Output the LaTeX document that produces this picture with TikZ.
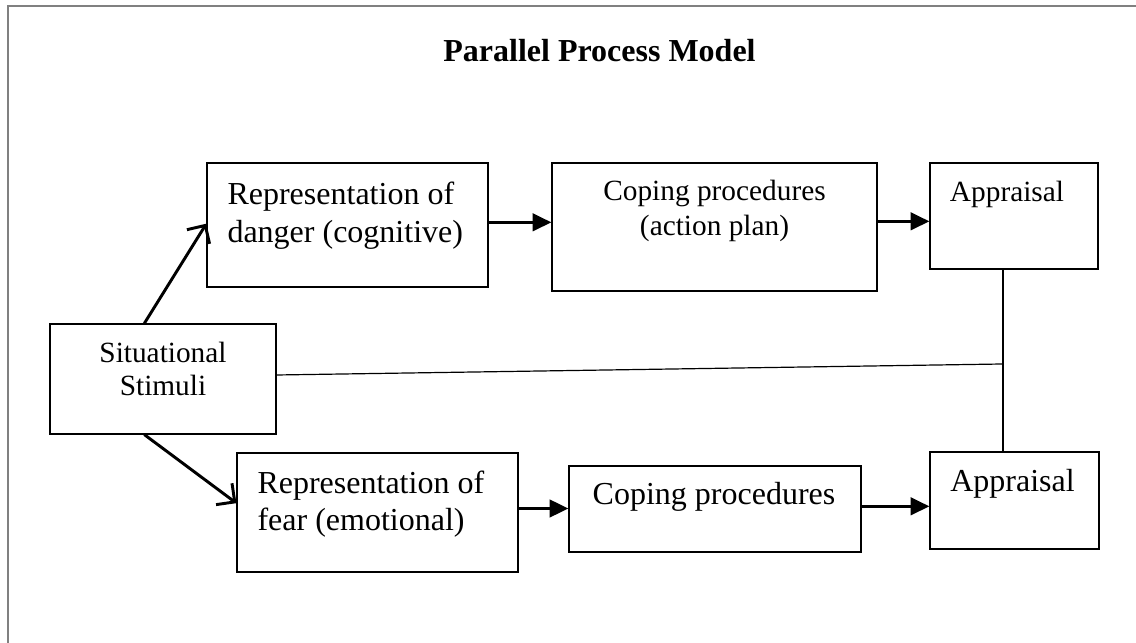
\documentclass[tikz,border=0pt]{standalone}
\usepackage{fontspec}
\setmainfont{Liberation Serif}
\usepackage{tikz}
\usetikzlibrary{arrows.meta}

\begin{document}
\begin{tikzpicture}[x=0.375pt, y=-0.375pt,
    box/.style={draw, line width=0.45pt, inner sep=0pt},
    boxtext/.style={inner sep=0pt},
    flow/.style={line width=1.1pt, -{Triangle[length=7pt, width=6.5pt]}},
    branch/.style={line width=1.1pt, -{Straight Barb[length=5pt, width=10pt]}}
]
  \useasboundingbox (0,0) rectangle (1136,643);

  % Rahmen
  \draw[gray, line width=0.6pt] (8,643) -- (8,6) -- (1136,6);

  % Titel
  \node[boxtext, anchor=base, font=\bfseries\fontsize{12}{14}\selectfont] (title) at (599.5,62) {Parallel Process Model};

  % Kaesten
  \node[box, minimum width=226*0.375pt, minimum height=110*0.375pt] (stim) at (163,379) {};
  \node[box, minimum width=281*0.375pt, minimum height=124*0.375pt] (danger) at (347.5,225) {};
  \node[box, minimum width=325*0.375pt, minimum height=128*0.375pt] (copetop) at (714.5,227) {};
  \node[box, minimum width=168*0.375pt, minimum height=106*0.375pt] (apptop) at (1014,216) {};
  \node[box, minimum width=281*0.375pt, minimum height=119*0.375pt] (fear) at (377.5,512.5) {};
  \node[box, minimum width=292*0.375pt, minimum height=86*0.375pt] (copebot) at (715,509) {};
  \node[box, minimum width=169*0.375pt, minimum height=97*0.375pt] (appbot) at (1014.5,500.5) {};

  % Texte in den Kaesten
  \node[boxtext, anchor=north, align=center, font=\fontsize{11}{12.4}\selectfont] (stimtxt) at (163,342) {Situational\\Stimuli};
  \node[boxtext, anchor=north west, align=left, font=\fontsize{12}{14.25}\selectfont] (dangertxt) at (227,181) {Representation of\\danger (cognitive)};
  \node[boxtext, anchor=north, align=center, font=\fontsize{11}{13.1}\selectfont] (copetoptxt) at (714.5,180) {Coping procedures\\(action plan)};
  \node[boxtext, anchor=base, font=\fontsize{11}{13}\selectfont] (apptoptxt) at (1007,202) {Appraisal};
  \node[boxtext, anchor=north west, align=left, font=\fontsize{12}{13.9}\selectfont] (feartxt) at (257,470) {Representation of\\fear (emotional)};
  \node[boxtext, anchor=base, font=\fontsize{12}{14}\selectfont] (copebottxt) at (714,505) {Coping procedures};
  \node[boxtext, anchor=base, font=\fontsize{12}{14}\selectfont] (appbottxt) at (1012.5,492) {Appraisal};

  % Pfeile
  \draw[branch] ([xshift=-7pt]stim.north) -- ([yshift=0.5pt]danger.west);
  \draw[branch] ([xshift=-7pt]stim.south) -- ([yshift=3.5pt]fear.west);
  \draw[flow] ([yshift=1pt]danger.east) -- ([yshift=1pt]danger.east -| copetop.west);
  \draw[flow] ([yshift=-2pt]apptop.west -| copetop.east) -- ([yshift=-2pt]apptop.west);
  \draw[flow] ([yshift=1.5pt]fear.east) -- ([yshift=1.5pt]fear.east -| copebot.west);
  \draw[flow] ([yshift=1pt]copebot.east) -- ([yshift=1pt]copebot.east -| appbot.west);

  % Verbindung der Bewertungen
  \coordinate (joint) at (1002.5,364);
  \draw[line width=0.75pt] (apptop.south -| joint) -- (appbot.north -| joint);
  \draw[line width=0.45pt] ([yshift=1.5pt]stim.east) -- (joint);

\end{tikzpicture}
\end{document}
